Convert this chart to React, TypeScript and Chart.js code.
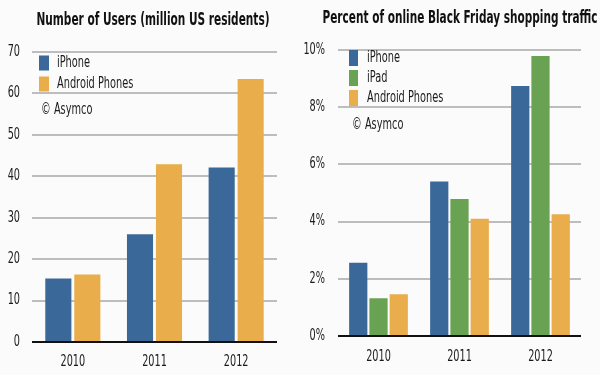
import React, { useEffect, useRef } from "react";
import { Chart, registerables } from "chart.js";
Chart.register(...registerables);

const years = ["2010", "2011", "2012"];
const usersIphone = [15.3, 26.0, 42.1];
const usersAndroid = [16.3, 42.9, 63.5];
const trafficIphone = [2.56, 5.4, 8.74];
const trafficIpad = [1.32, 4.79, 9.79];
const trafficAndroid = [1.46, 4.1, 4.26];
const leftTitle = "Number of Users (million US residents)";
const rightTitle = "Percent of online Black Friday shopping traffic";
const credit = "© Asymco";

const BLUE = "#3a6899";
const ORANGE = "#e9ad4c";
const GREEN = "#6aa253";
const FONT = "'Liberation Sans Narrow', 'Arial Narrow', 'DejaVu Sans Condensed', 'Liberation Sans', sans-serif";

type Deco = {
  title: string; titleCx: number; titleCy: number; titleW: number;
  boxX: number; boxW: number; boxH: number; textX: number; rowY: number[];
  creditX: number; creditY: number; yPad: number; xOff: number;
  fmt: (v: number) => string;
};

function drawNarrow(ctx: any, text: string, x: number, y: number, font: string, sx: number, align: string) {
  ctx.save();
  ctx.font = font;
  ctx.textAlign = align;
  ctx.textBaseline = "middle";
  ctx.translate(x, y);
  ctx.scale(sx, 1);
  ctx.fillText(text, 0, 0);
  ctx.restore();
}

const decoPlugin = {
  id: "deco",
  beforeDraw(chart: any) {
    const { ctx, width, height } = chart;
    ctx.save();
    ctx.fillStyle = "#fbfbfb";
    ctx.fillRect(0, 0, width, height);
    ctx.restore();
  },
  afterDraw(chart: any, _args: any, opts: any) {
    const d: Deco = opts.deco;
    if (!d) return;
    const ctx = chart.ctx;
    ctx.fillStyle = "#111";
    // title
    ctx.save();
    ctx.font = `bold 18px ${FONT}`;
    const w = ctx.measureText(d.title).width;
    ctx.restore();
    drawNarrow(ctx, d.title, d.titleCx, d.titleCy, `bold 18px ${FONT}`, d.titleW / w, "center");

    // legend
    const lf = `16px ${FONT}`;
    chart.data.datasets.forEach((ds: any, i: number) => {
      const cy = d.rowY[i];
      ctx.fillStyle = ds.backgroundColor;
      ctx.fillRect(d.boxX, cy - d.boxH / 2, d.boxW, d.boxH);
      ctx.fillStyle = "#1a1a1a";
      drawNarrow(ctx, ds.label, d.textX, cy, lf, 0.68, "left");
    });
    drawNarrow(ctx, credit, d.creditX, d.creditY, lf, 0.68, "left");

    // tick labels
    const tf = `15px ${FONT}`;
    ctx.fillStyle = "#1a1a1a";
    const ys = chart.scales.y;
    ys.ticks.forEach((t: any, i: number) => {
      drawNarrow(ctx, d.fmt(t.value), ys.right - d.yPad, ys.getPixelForTick(i), tf, 0.72, "right");
    });
    const xs = chart.scales.x;
    xs.ticks.forEach((t: any, i: number) => {
      drawNarrow(ctx, String(xs.getLabelForValue(t.value)), xs.getPixelForTick(i), chart.chartArea.bottom + d.xOff, tf, 0.72, "center");
    });
  },
};

function makeConfig(
  datasets: any[], max: number, step: number,
  pad: any, yW: number, xH: number, catPct: number, deco: Deco
): any {
  return {
    type: "bar",
    data: { labels: years, datasets },
    plugins: [decoPlugin],
    options: {
      responsive: false,
      animation: false,
      layout: { padding: pad },
      datasets: { bar: { categoryPercentage: catPct, barPercentage: 0.9 } },
      plugins: {
        legend: { display: false },
        title: { display: false },
        tooltip: { enabled: false },
        deco: { deco },
      },
      scales: {
        x: {
          grid: { display: false, drawTicks: false },
          border: { display: false },
          ticks: { display: false },
          afterFit: (s: any) => { s.height = xH; },
        },
        y: {
          min: 0, max,
          grid: {
            drawTicks: false,
            lineWidth: 2,
            color: (c: any) => (c.tick && c.tick.value === 0 ? "#111" : "#bdbdbd"),
          },
          border: { display: false },
          ticks: { stepSize: step, display: false },
          afterFit: (s: any) => { s.width = yW; },
        },
      },
    },
  };
}

function ChartCanvas({ config, left }: { config: any; left: number }) {
  const ref = useRef<HTMLCanvasElement | null>(null);
  useEffect(() => {
    if (!ref.current) return;
    const ch = new Chart(ref.current, config);
    return () => ch.destroy();
  }, [config]);
  return (
    <canvas ref={ref} width={300} height={375}
      style={{ position: "absolute", left, top: 0, width: 300, height: 375 }} />
  );
}

const leftConfig = makeConfig(
  [
    { label: "iPhone", data: usersIphone, backgroundColor: BLUE },
    { label: "Android Phones", data: usersAndroid, backgroundColor: ORANGE },
  ],
  70, 10,
  { top: 52, right: 23, left: 0, bottom: 0 }, 32, 33, 0.71,
  {
    title: leftTitle, titleCx: 153, titleCy: 20, titleW: 233,
    boxX: 39, boxW: 10, boxH: 15, textX: 57, rowY: [63, 84],
    creditX: 41, creditY: 110, yPad: 12, xOff: 20, fmt: (v) => String(v),
  }
);

const rightConfig = makeConfig(
  [
    { label: "iPhone", data: trafficIphone, backgroundColor: BLUE },
    { label: "iPad", data: trafficIpad, backgroundColor: GREEN },
    { label: "Android Phones", data: trafficAndroid, backgroundColor: ORANGE },
  ],
  10, 2,
  { top: 50, right: 19, left: 0, bottom: 0 }, 38, 39, 0.75,
  {
    title: rightTitle, titleCx: 160, titleCy: 18, titleW: 275,
    boxX: 49, boxW: 9, boxH: 16, textX: 67, rowY: [58, 78, 98],
    creditX: 52, creditY: 125, yPad: 13, xOff: 21, fmt: (v) => v + "%",
  }
);

export default function App() {
  useEffect(() => {
    document.body.style.margin = "0";
  }, []);
  return (
    <div style={{ position: "relative", width: 600, height: 375, overflow: "hidden", background: "#fbfbfb" }}>
      <ChartCanvas config={leftConfig} left={0} />
      <ChartCanvas config={rightConfig} left={300} />
    </div>
  );
}
